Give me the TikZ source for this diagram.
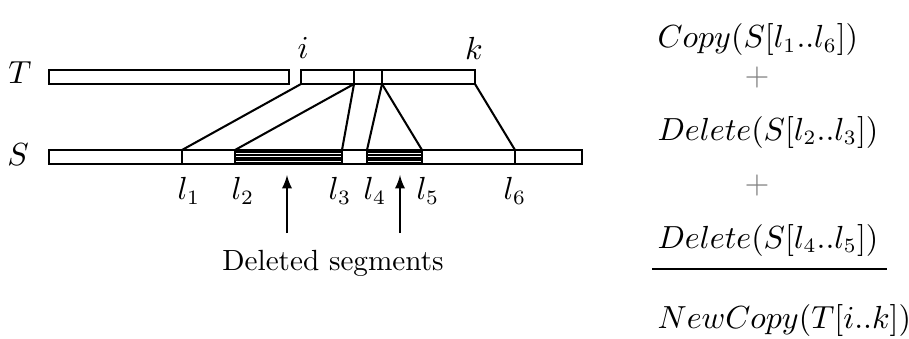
\documentclass[tikz,border=0pt]{standalone}
\usetikzlibrary{arrows}
\tikzstyle{seg}=[draw,line width=0.7pt]
\tikzstyle{lnk}=[line width=0.7pt]
\tikzstyle{hatch}=[line width=0.65pt]
\tikzstyle{arr}=[-latex,line width=0.6pt]
\tikzstyle{lab}=[inner sep=1pt,font=\fontsize{10.6}{13}\selectfont]
\tikzstyle{formula}=[anchor=west,inner sep=0pt,font=\fontsize{10.5}{13}\selectfont]
\tikzstyle{plus}=[text=gray,inner sep=0pt,font=\fontsize{10.6}{13}\selectfont]

\begin{document}
\begin{tikzpicture}[x=0.3426pt,y=-0.3426pt]
\useasboundingbox (0,0) rectangle (909,338);
% string T
\node[lab] (T) at (20,73) {$T$};
\coordinate (Ti) at (301,84);
\coordinate (Tm) at (354,84);
\coordinate (Tn) at (382,84);
\coordinate (Tk) at (475,84);
\draw[seg] (49,70) rectangle (289,84);
\draw[seg] (301,70) rectangle (Tk);
\draw[seg] (354,70) -- (Tm);
\draw[seg] (382,70) -- (Tn);
\node[lab] (i) at (303,48) {$i$};
\node[lab] (k) at (474,48) {$k$};
% string S
\node[lab] (S) at (18,155) {$S$};
\coordinate (S1) at (182,150);
\coordinate (S2) at (235,150);
\coordinate (S3) at (342,150);
\coordinate (S4) at (367,150);
\coordinate (S5) at (422,150);
\coordinate (S6) at (515,150);
% deleted parts
\foreach \y in {152.4,155,157.6,160.2,162.8}{
  \draw[hatch] (235,\y) -- (342,\y);
  \draw[hatch] (367,\y) -- (422,\y);
}
\draw[seg] (49,150) rectangle (582,164);
\foreach \p in {S1,S2,S3,S4,S5,S6}
  \draw[seg] (\p) -- ++(0,14);
% copy links
\draw[lnk] (Ti) -- (S1);
\draw[lnk] (Tm) -- (S2);
\draw[lnk] (Tm) -- (S3);
\draw[lnk] (Tn) -- (S4);
\draw[lnk] (Tn) -- (S5);
\draw[lnk] (Tk) -- (S6);
% positions
\node[lab] (l1) at (189,191) {$l_1$};
\node[lab] (l2) at (243,191) {$l_2$};
\node[lab] (l3) at (340,191) {$l_3$};
\node[lab] (l4) at (375,191) {$l_4$};
\node[lab] (l5) at (428,191) {$l_5$};
\node[lab] (l6) at (515,191) {$l_6$};
\node[inner sep=1pt] (del) at (333,263) {Deleted segments};
\coordinate (d1) at (287,233);
\coordinate (d2) at (400,233);
\draw[arr] (d1) -- (287,175);
\draw[arr] (d2) -- (400,175);
% edit sum
\node[formula] (f1) at (657,40) {$Copy(S[l_1..l_6])$};
\node[plus] (p1) at (757,78) {$+$};
\node[formula] (f2) at (657,132) {$Delete(S[l_2..l_3])$};
\node[plus] (p2) at (757,185) {$+$};
\node[formula] (f3) at (657,240) {$Delete(S[l_4..l_5])$};
\coordinate (r1) at (652,269);
\coordinate (r2) at (887,269);
\draw[line width=0.7pt] (r1) -- (r2);
\node[formula] (f4) at (657,320) {$NewCopy(T[i..k])$};
\end{tikzpicture}
\end{document}
